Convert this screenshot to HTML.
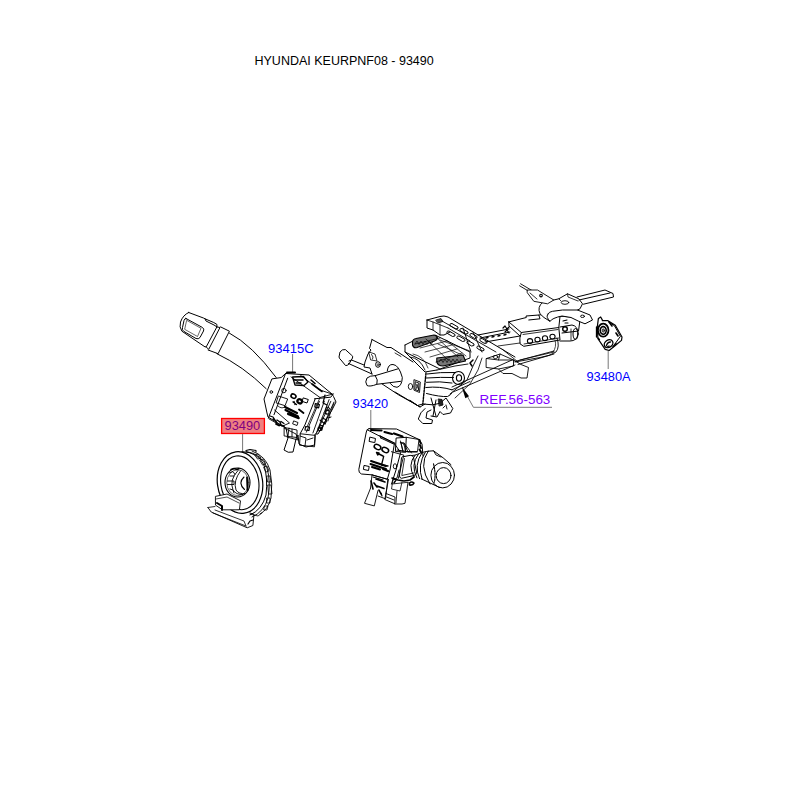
<!DOCTYPE html>
<html><head><meta charset="utf-8">
<style>
html,body{margin:0;padding:0;background:#fff;width:800px;height:800px;overflow:hidden}
svg{position:absolute;left:0;top:0}
text{font-family:"Liberation Sans",sans-serif}
</style></head><body>
<svg width="800" height="800" viewBox="0 0 800 800">
<rect width="800" height="800" fill="#fff"/>
<text x="254.5" y="64.8" font-size="12.5" fill="#000">HYUNDAI KEURPNF08 - 93490</text>

<!-- labels -->
<text x="268" y="353.4" font-size="13" fill="#0000ff">93415C</text>
<text x="352.6" y="408" font-size="12.8" fill="#0000ff">93420</text>
<text x="586.5" y="380.5" font-size="12.8" fill="#0000ff">93480A</text>
<text x="479.6" y="404.3" font-size="13.4" fill="#8000ff">REF.56-563</text>
<rect x="221.6" y="418.5" width="42.8" height="15" fill="#f08080" stroke="#ff0000" stroke-width="1.3"/>
<text x="224.6" y="430.4" font-size="12.8" fill="#800080">93490</text>

<!-- leader lines -->
<g stroke="#777" stroke-width="1" fill="none">
<line x1="292.6" y1="354" x2="292.6" y2="372"/>
<line x1="370.8" y1="410" x2="370.8" y2="429"/>
<line x1="608.2" y1="351" x2="608.2" y2="369"/>
<line x1="242.6" y1="434" x2="242.6" y2="451"/>
<polyline points="552,407.3 473.4,407.3 462.5,387.5"/>
</g>
<path d="M461.8,386.8 L465.3,398.3 L469,396.3 Z" fill="#000"/>

<g id="drawing" stroke="#000" stroke-width="1" fill="none" stroke-linejoin="round" stroke-linecap="round">

<!-- 93415C lever -->
<path d="M188.7,312.5 L203.7,318.1 L205,318.8 L213.7,322.5 L216.9,324.4 L216.9,326.9 L206.2,346.9 L205,346.9 L181.9,331.2 Q179,327 180.5,322 Q183,315 188.7,312.5 Z"/>
<path d="M205,318.8 L206,321 L214,325 L216.9,326.9"/>
<path d="M186,318.5 L202.5,327.5 Q204.5,329 203.5,331 L200,337.5 Q198.5,339.5 196,338.5 L184,331.5 Q181.5,330 182.5,327.5 L184,320.5 Q184.8,318 186,318.5 Z"/>
<path d="M187,320.5 L201,328.3 L197.5,336.5 L185,329.5 Z" stroke-width="0.6"/>
<path d="M216.9,326.9 L220,327.5 L208.7,349.4 L206.2,346.9"/>
<path d="M220.6,326.9 L229.4,331.2 L218.1,353.7 L208.1,350"/>
<path d="M229.4,333.1 Q252,345 276.2,377.5"/>
<path d="M216.9,353.7 Q243,366 266.2,388.7"/>

<!-- 93415C switch body -->
<path d="M286,373.5 L309,375 L332,394 L333.5,396.5 L336,402 L332,410 L326,420 L318,434 L315,434 L314.5,445 L306,447 L299,444 L298,435 L296,439 L293,452 Q288,453.5 284,450 L288,438 L286,428 L268,417 L267,413 L264,399 L271.9,378.9 L280.8,377.6 Z" stroke-width="1"/>
<path d="M287,372.6 L295,372.6" stroke-width="2"/>
<path d="M285.6,373.4 L268.4,418 M287.7,378.2 L274,414.7"/>
<path d="M291,376.9 L320,397.5 L333,394 M300.7,375.5 L320,390 L332,394" stroke-width="0.9"/>
<path d="M315.2,398.9 L304.9,425 L300,434"/>
<path d="M320,397.5 L307,427" stroke-width="0.8"/>
<path d="M314.5,398.8 L330.8,397.2 L333.2,394" stroke-width="1"/>
<path d="M319.4,401.3 L306.4,432.2 M324.3,401.3 L312.9,433 M329.1,399.6 L316.1,433.8" stroke-width="0.9"/>
<path d="M334,402 L321,430.5 M330.8,401.3 L317,432.2" stroke-width="0.9"/>
<path d="M315.3,403.7 L319.4,404.5 L318.6,407.8 L314.8,407 Z M305.6,426.5 L309.6,427 L309,430.5 L305,430 Z" stroke-width="1.2"/>
<path d="M322,418 L327,420 L325,424 M320,425 l3,1 l-1,3 l-3,-1z" stroke-width="1.1"/>
<path d="M327,407 l2.5,1 l-1,3 l-2.5,-1z M324,413 l3,1" stroke-width="1"/>
<path d="M300.7,433.8 L315.3,435.4 L314.5,446.8 L299.9,445.2 Z" stroke-width="0.9"/>
<path d="M292.5,377 L303.5,376.5 L308,382 L304,385.5 L295,385 Z" stroke-width="1.3"/>
<path d="M294,380 L303,380 M296,383 L301,383" stroke-width="1.5"/>
<path d="M311,380 L315,383.5 M312,384 L322,391.5" stroke-width="1.6"/>
<circle cx="271.3" cy="392" r="1.3"/>
<ellipse cx="283.9" cy="390.6" rx="2.2" ry="2.2" stroke-width="0.9"/>
<path d="M278.7,396.1 L287.7,399 L285,405.7 L276.5,403 Z" stroke-width="0.9"/>
<path d="M278,406 Q282,410 286,406" stroke-width="0.8"/>
<ellipse cx="293.5" cy="396.1" rx="2.6" ry="2" transform="rotate(30 293.5 396.1)" stroke-width="1.6"/>
<ellipse cx="299.7" cy="401.3" rx="2.4" ry="2" transform="rotate(30 299.7 401.3)" stroke-width="2.2"/>
<path d="M303.5,398 L308.3,399.5 L307,403 L302.5,401.5 Z" stroke-width="1"/>
<path d="M293,402 L296.5,404.5 M294,401.5 l1,3" stroke-width="1.3"/>
<path d="M285,407 L297,413 M285.5,410 L298,416.5 M288,414 L298.7,418.1" stroke-width="2.2"/>
<path d="M299,409.5 L303.5,413" stroke-width="1.8"/>
<path d="M294,421 l4,1.5 l-1,3 l-4,-1.5z" stroke-width="0.9"/>
<path d="M274.5,410 L289.5,423 L282,426.3 L268.9,418.8" stroke-width="0.9"/>
<path d="M270,416 l3,1 l2,3 M273,419 l3,2 l1,3 M277,420 l3,2 l1,3 M281,421.5 l3,2" stroke-width="1.3"/>
<path d="M276,424 l3,1.5 M280,425 l4,1" stroke-width="1.8"/>
<path d="M284.5,427.5 L297,430 L297,437.5 L284.5,436 Z M289,428 L288,436 M292,429 L292,437" stroke-width="0.9"/>
<path d="M284,428 L296,434 L298,440 L287,437" stroke-width="0.9"/>
<path d="M320,420 L325,424 M318,428 l3,-1 l1,3 l-3,1z" stroke-width="1.1"/>
<path d="M326,410 l3,0 l0,4 l-3,0z M328,418 l3,-1" stroke-width="1"/>
<path d="M300,436 L306,438 L305,446 M307,440 L313,438" stroke-width="0.9"/>
<path d="M334,403 L330,414 L328,421" stroke-width="0.8"/>
<path d="M325,395 L323,403 L327,405" stroke-width="1.2"/>
<!-- 93490 clock spring -->
<ellipse cx="240" cy="482.5" rx="22.6" ry="31" transform="rotate(-8 240 482.5)" stroke-width="1.2"/>
<ellipse cx="239.8" cy="482.8" rx="19" ry="27" transform="rotate(-8 239.8 482.8)" stroke-width="1.1"/>
<path d="M242,451.6 Q258,452 264,465 Q268,478 266,495 Q262,510 250,515" stroke-width="1"/>
<path d="M246,451.4 Q262,454 267,468 Q271,482 268,498 Q264,512 252,517" stroke-width="0.9"/>
<path d="M252,451 Q266,456 270,470 Q273,484 271,498 Q268,510 260,514" stroke-width="0.9"/>
<path d="M255,455 l3,-1 l3,4 l-3,1z M260,460 l3,-1 l3,5 l-3,1z M264,467 l3,-1 l2,5 l-3,1z M267,476 l3,0 l1,6 l-3,0z M268,485 l3,0 l1,9 l-3,0z M267,498 l3,0 l0,5 l-3,0z M265,506 l3,0 l-1,4 l-3,0z" stroke-width="0.8"/>
<path d="M246,450.5 L250,449.5 L256,450.5 L256,452" stroke-width="1.1"/>
<path d="M250,514 L258,516 L262,513" stroke-width="0.8"/>
<ellipse cx="237.5" cy="482.5" rx="12.5" ry="14.5" stroke-width="1.1"/>
<ellipse cx="237.8" cy="482.7" rx="11" ry="13" stroke-width="0.6"/>
<path d="M238,470.5 Q229,480 233,490 Q236,495 243,494.5 M240.5,471 Q233,481 236,490 Q239,494.5 245,493.5" stroke-width="0.9"/>
<path d="M244,477 Q237.5,483 244.5,489.5" stroke-width="1.1"/>
<path d="M247,477.5 L247.5,490" stroke-width="1.8"/>
<path d="M227.5,481 L234,481 L234,484.5 L227.5,484.5 M229,473 l4,-1.5 l2,3 M230,476 l4,0 M230,489 l3,1 l1,3" stroke-width="0.9"/>
<path d="M231,469.5 l3,-1 l3,1 l2,-1" stroke-width="1.4"/>
<path d="M215.8,496.3 L227,494 L240.5,500.8 L239.4,509.8 L222.5,509.8 L215.8,505.3 Z" stroke-width="0.9" fill="#fff"/>
<path d="M216,499 L227,497 L239,503" stroke-width="0.7"/>
<path d="M217,503 L222,506 L222,510" stroke-width="2"/>
<path d="M207.9,507.5 L211.2,512 L247.2,527.8 L252.9,525.5 L254,514.3 L250,513" stroke-width="0.9"/>
<path d="M207.9,507.5 L215,506.5 M213,513 L246,526 M215,510 L244,521 L246,526" stroke-width="0.8"/>
<path d="M248,524 L250,521 L253,520" stroke-width="1.2"/>

<!-- steering column -->
<g id="column">
<!-- small pedal lever -->
<path d="M345,349.5 Q342,349 340,352 L339,357 Q339.5,359 341,360 L345.5,365.5 Q347,366 349,364 L352.5,358 Q353.5,356 351.5,355 Z"/>
<path d="M349,361 L351.5,360 L364,365 M348.5,363.5 L372,374"/>
<!-- plate -->
<path d="M372,339.5 L387,347.5 L391,347.5 L413,362 M372,339.5 L369.5,348.5 L371,350 L368,354 L365,362 L364,367 L370,368 L372,374"/>
<path d="M369,352 L375,354 L377,361 L371,360 Z M371.5,354.5 L373,357 L372.5,359" stroke-width="0.8"/>
<ellipse cx="378" cy="364.5" rx="2.4" ry="2.8"/>
<circle cx="378.2" cy="364.7" r="1" stroke-width="0.7"/>
<path d="M395,353 L401,356.5" stroke-width="0.8"/>
<!-- shaft tube -->
<path d="M375.3,375.6 Q370,375.5 367,378 Q364.5,382 367,385.5 Q370,387 376.8,384.3 Q378.5,380 375.3,375.6 Z"/>
<path d="M375.3,375.6 L397.8,368.9 M376.8,384.3 L400.8,381.3"/>
<path d="M387.3,370.8 Q388,364 393,364.5 Q399,365 402.3,377.5 Q402,386 397,387.3 Q393,387.5 390.3,383.5"/>
<path d="M382,383.9 L398.5,394.8 L415,404 L420,407 L425,404 M395,392 L420,407"/>
<!-- housing -->
<path d="M405,345 L405,352 L425,372 L437,370" />
<path d="M405,345 L413,341 L437,336 L470,352 L470,358 L440,369 L405,352"/>
<path d="M412.5,341.5 Q413,339 416,338.5 L434,335 Q437,335 437.5,338 Q437,340 434.5,341 L417,347.5 Q413.5,348.5 412.5,345 Z" fill="#777" stroke-width="1.1"/>
<path d="M415,344 l2,-3 l2,3.5 l2,-3.5 l2,3.5 l2,-3.5 l2,3.5 l2,-3.5 l2,3.5 l2,-3" stroke-width="0.8" stroke="#111"/>
<path d="M436.8,358 L463,355 L465.5,361 L443,366 Q438,366 436.8,362 Z" fill="#777" stroke-width="1.1"/>
<path d="M439,362 l2,-3 l2,3.5 l2,-3.5 l2,3.5 l2,-3.5 l2,3.5 l2,-3.5 l2,3.5 l2,-3.5 l2,3.5 l2,-3" stroke-width="0.8" stroke="#111"/>
<path d="M473,360 l-3,3 l2,3" stroke-width="1.5"/>
<path d="M415,344 L440,338 M420,348 L447,341 M425,352 L452,345 M430,357 L457,349 M436,362 L462,353" stroke-width="0.7"/>
<path d="M426,339 L448,360 M436,337 L458,357 M446,340 L466,356" stroke-width="0.7"/>
<path d="M410,357 Q420,358 425,370" stroke-width="0.9"/>
<path d="M413,354 Q424,356 428,368" stroke-width="0.7"/>
<path d="M427,374 Q440,372 455,372.5 M426.5,378 Q441,377 453.5,377.5 M426.5,382.3 Q440,381 452,383 M425.8,387.5 Q440,386 452,389.8 M426.5,393.5 Q440,397 447.5,396.5 Q451,395 452,392.8" stroke-width="1"/>
<path d="M426,373 L422.8,404" stroke-width="1.4" stroke-dasharray="2.2 1.2"/>
<path d="M437,370 L455,366 L468,364" stroke-width="0.9"/>
<ellipse cx="458.5" cy="378" rx="6" ry="6.5" stroke-width="1.1"/>
<ellipse cx="459" cy="378" rx="2.6" ry="3.2" stroke-width="1.1"/>
<path d="M414.3,379.8 L420.3,382 L419.5,392.5 L414.3,390.3 Z M415.6,381.8 L419,383.2 L418.4,390.8 L415.3,389.6 Z" stroke-width="0.9"/>
<path d="M416,384 L418.5,389 M418,384 L416,389" stroke-width="0.8"/>
<ellipse cx="410.5" cy="386.5" rx="2.2" ry="3" stroke-width="0.9"/>
<path d="M410,400.3 L417.5,405.5 L422.8,404" stroke-width="1"/>
<path d="M422.8,404 L432.5,404.8 L440,403.3 L446,398 L452.8,408.5 L450.5,413 L443,414.5 L440,411.5 L437,417 L431,416"/>
<path d="M425,408.5 Q420,412 418.3,419 L422.8,423.5 L431.8,423.5 L432.5,420 L426,418 L427,412 L431,410"/>
<path d="M431,398 L436,416 M436,400 L433,416" stroke-width="1"/>
<path d="M438.5,399 L442,399.5 L443,405 L439.5,406 Z" fill="#222" stroke-width="0.8"/>
<path d="M443,408 l2,-2 M446,405 l1,4" stroke-width="0.9"/>
<path d="M452,389.8 L470,381.5 M450,394 L467,380 L473,366 L478,356" stroke-width="0.9"/>
<path d="M455,398 L470,384 L478,370 L482,358" stroke-width="0.8"/>
<path d="M452,387 L512,360 M453,392 L515,365" stroke-width="0.9"/>
<!-- upper bracket + frame -->
<path d="M427,320 L440,316.5 L444,316 L448,317 L515,357 M427,320 L427,328 L433,330 L440,335 L444,335 L450,332"/>
<path d="M427,320 L433,322 L448,328 M433,322 L433,330 M440,324 L440,335" stroke-width="0.8"/>
<path d="M436,320 l5,-1.5 l2,3 l-5,1.5z" fill="#555" stroke-width="0.7"/>
<path d="M442,321 L496,352 M448,328 L470,341" stroke-width="0.9"/>
<path d="M447,333 q-1,-2 2,-2 l6,3.5 q1,2 -2,2z M457,338 q-1,-2 2,-2 l6,3.5 q1,2 -2,2z M467,343 q-1,-2 2,-2 l5,3 q1,2 -2,2z M477,348 q-1,-2 2,-2 l5,3 q1,2 -2,2z" stroke-width="1"/>
<path d="M450,325.5 q-1,-2 2,-2 l6,3.5 q1,2 -2,2z M460,330.5 q-1,-2 2,-2 l6,3.5 q1,2 -2,2z M470,335.5 q-1,-2 2,-2 l5,3 q1,2 -2,2z M480,340.5 q-1,-2 2,-2 l5,3 q1,2 -2,2z" stroke-width="1"/>
<path d="M463,328 L471,352 M473,332 L482,352" stroke-width="0.9"/>
<path d="M440,340 L470,351 M438,344 L462,355" stroke-width="0.7"/>
<!-- long rails -->
<path d="M478,335 L509,329 M485,342 L520,336 M480,338 L510,332 M577,297 L605,290 L613,293.5 L613.5,297 L583.5,304.2 M579,300 L610,293" />
<path d="M486,338 l2,-0.5 M492,337 l2,-0.5 M498,336 l2,-0.5 M504,335 l2,-0.5" stroke-width="1.3"/>
<!-- bracket block -->
<path d="M486.5,358.5 L500,354 L513.5,360 L513.5,366 L498.5,369 L486.5,367.5 Z M500,354 L498.5,360 L486.5,358.5 M498.5,360 L513.5,360" stroke-width="0.9"/>
<ellipse cx="495.5" cy="357" rx="2.5" ry="1.5" stroke-width="0.9"/>
<path d="M513.5,360 L521,364.5 L528.5,367.5 L527,378 L521,378 L512,373.5 L503,373.5 L498.5,369" stroke-width="0.9"/>
<path d="M515,361.5 L554,351 M518,364.5 L554,354" stroke-width="0.9"/>
<!-- lock housing -->
<path d="M508.8,321.9 L526.3,317.5 L526,316 L538.8,315 L540,318.8 L528.8,320 M538.8,315 L546,314 L560,316.5"/>
<path d="M508.8,321.9 L521.3,332.5 L558.8,327.5 L560,316.5 M508.8,321.9 L509,326 L520,336"/>
<path d="M521.3,332.5 Q519,338 520,343.8 L523.8,346.3 L560,340 L558.8,327.5"/>
<path d="M523,334.5 L558,329.5 M524,344 L559,338" stroke-width="0.8"/>
<ellipse cx="530" cy="341" rx="2.6" ry="2.4" stroke-width="1.1"/>
<ellipse cx="537.5" cy="339.6" rx="2.6" ry="2.4" stroke-width="1.1"/>
<ellipse cx="545" cy="338.2" rx="2.6" ry="2.4" stroke-width="1.1"/>
<ellipse cx="552.5" cy="336.6" rx="2.6" ry="2.4" stroke-width="1.1"/>
<path d="M498,346 L520,343 M520,360 L554,352 M502,349 L518,362" stroke-width="0.8"/>
<path d="M560,316.5 L562,316.3 L578,317.5 L580,320 L578.5,331 L562,333" />
<circle cx="565" cy="329" r="2.3" stroke-width="1.4"/>
<path d="M560,327 L572,325 Q578,326 578,334 Q577,341 570,341 L560,341"/>
<ellipse cx="575.5" cy="334" rx="2.5" ry="5.5"/>
<path d="M571,329 L571,340" stroke-width="0.8"/>
<path d="M563,321 l4,-1 M565,323 l3,0" stroke-width="1.1"/>
<path d="M557,338 Q560,347 556,352 Q550,356 540,357.5 L515,362" stroke-width="0.9"/>
<path d="M555,340 Q557,347 553,352" stroke-width="0.7"/>
<path d="M503,328 l2,-2 l2,3 l2,-2 M505,332 l2,-2 l2,3" stroke-width="1.2"/>
<!-- saddle bracket -->
<path d="M542.5,302.5 Q537,307 540,313.8 Q543,317.5 550,321.3 Q546,317 547.5,315 Q549,311.5 552.5,311.3 L562.5,310 L575,310 L577.5,310 L590,315 L592.5,320 L585,323.8 L578.8,321.3 L571,317.5 L562,316 Q552,318 550,321.3" fill="#fff"/>
<path d="M542.5,302.5 L553.8,300 L558.8,298.8 L567.5,293.8 L578.8,298.8 L582.5,303.8 L580,308.8 L577.5,310"/>
<ellipse cx="565" cy="302.5" rx="3.8" ry="1.8" stroke-width="0.9"/>
<ellipse cx="582.5" cy="316.3" rx="2" ry="1.2" stroke-width="0.9"/>
<path d="M558.8,298.8 L561,301 M567.5,293.8 L568,297 L578,301" stroke-width="0.8"/>
<!-- thin rod -->
<path d="M520.6,283.8 L537.5,293.8 M519.6,285.8 L536.5,295.8" stroke-width="0.9"/>
<path d="M527.5,290 L537.5,290 L553.8,300 L547.5,303.8 L533.8,301.3 L527.5,293 Z" stroke-width="0.9" fill="#fff"/>
<circle cx="541" cy="295.6" r="1.3" stroke-width="1.1"/>
<path d="M530,293 L537,299" stroke-width="0.8"/>
</g>
<!-- 93420 switch -->
<g id="sw93420">
<path d="M369,428.6 L396.5,429 L419,439.5 L422,444 L423,456"/>
<path d="M369,428.6 Q366.5,429 366.3,432 L358.8,469.5 Q358.5,473 361.5,474 L371.5,474.8 L387.3,479.3 L390,470 L394.4,443.7 L367.3,429.8" stroke-width="1"/>
<path d="M371,430 L381.5,430.5 M384.5,432 L392,434 M394,433.5 L402.5,436.5" stroke-width="2.2"/>
<path d="M380,435.8 L395,443.2 M380.8,438 L393.5,444 M380,435.8 L380.8,438" stroke-width="1"/>
<path d="M396.5,438 L406.3,437.3 L405.5,452.3 L395.8,451.5 Z" stroke-width="1"/>
<path d="M400.3,442.5 L404,443 L411.5,453 M401,443 L403,451 M404,443 L408,452" stroke-width="0.9"/>
<path d="M406.3,437.3 L419,439.5 L417.5,451.5 L406,451.5" stroke-width="0.9"/>
<path d="M419.5,440 L420.5,443 M420,445 L421,448 M419.5,449.5 L421,452" stroke-width="2"/>
<path d="M397,450 L409,452 L417,452" stroke-width="1.2"/>
<path d="M370.2,437.2 L375.5,438.5 L374.8,442.6 L369.5,441.5 Z" stroke-width="1"/>
<ellipse cx="377.5" cy="447" rx="3.5" ry="2.3" transform="rotate(25 377.5 447)" stroke-width="1.5"/>
<ellipse cx="385.3" cy="450" rx="3.5" ry="2.3" transform="rotate(25 385.3 450)" stroke-width="1.5"/>
<path d="M377,453 L383,456 M376.5,452.5 l2.5,0.5 l-1.3,2z" stroke-width="1.4"/>
<path d="M383.7,456.3 L381.5,465 L388,466" stroke-width="1.3"/>
<path d="M371,461 L386,466 M370.5,464 L386,469 M372,467 L380,469.5" stroke-width="2"/>
<path d="M383,469 L388,471" stroke-width="2.2"/>
<path d="M364.4,465.5 L369.2,466.5 L368.5,470.5 L363.8,469.5 Z" stroke-width="1"/>
<!-- right face of body -->
<path d="M394.4,443.5 L400.6,452.6 L396,470 L391.5,484" />
<ellipse cx="395" cy="466.3" rx="1.7" ry="2.6" stroke-width="0.9"/>
<!-- connector + shaft -->
<path d="M372,474.8 L387.8,479.3 L385.5,498.8 L378,496 M372,474.8 L370.5,488.3" stroke-width="0.9"/>
<path d="M370.5,488.3 L364.5,503.3 L374.3,505.9 L378,490.5" stroke-width="0.9"/>
<path d="M371,481 L373,489 M374,483 L377,487 M376,479 L385,482 M377,486 L384,488.5 M379,490 l2,4" stroke-width="1.6"/>
<path d="M381,493 l1,3 M373,477 l10,3" stroke-width="1.2"/>
<path d="M388.5,479.3 L384.8,499.5 L395.3,504 L402,504 L405,503.3 L408,482.3" stroke-width="0.9"/>
<path d="M386,493.5 L395,497 L394.8,504 M386.5,497 L394,500" stroke-width="0.9"/>
<path d="M393,479.5 L391.5,489 L400,491 L402,482 M392,484 L408,482.3 M397,491 L396,503" stroke-width="0.8"/>
<path d="M393.5,478 L396,480 L394,483" stroke-width="1.4"/>
<path d="M409.5,483 q2,-2 4.5,0 q-1,2.5 -4.5,2z" stroke-width="1.6"/>
<path d="M399,470 L397,478 L393,480" stroke-width="0.9"/>
<!-- knob -->
<path d="M391.4,451.7 L403.8,455.1 L398.3,478.5" stroke-width="0.9"/>
<path d="M403.5,456.5 Q402,456 401.5,458 L399.5,475 Q399,478 401.5,478.3 L414,475.5 Q417,474.8 416.5,472 L413.5,457.5 Q413,455 410.5,455.3 Z" stroke-width="1"/>
<path d="M404.5,458.5 L401.8,475.5 L413.5,473" stroke-width="0.8"/>
<path d="M392,478 L398,480 L404,481 L410,480 L414,477" stroke-width="1.6"/>
<path d="M400.5,441 L403,452 M401.5,443 q2,-1 3,3 l1,6" stroke-width="0.9"/>
<path d="M415.1,455.1 Q407,465 414.2,477 M418.6,453.8 Q410,465 416.9,477.9 M422.1,452.5 Q413.5,465 419.5,478.7 M425.6,451.6 Q417,465 422.1,479.2" stroke-width="1"/>
<path d="M412,455.5 L415.1,455.1 L418.6,453.8 L422.1,452.5 L425.6,451.6 L428.2,451.2" stroke-width="0.9"/>
<path d="M428.2,451.2 Q418,465 430,484" stroke-width="1"/>
<path d="M428.2,451.2 L433.5,450.8 L443.1,457.8 L451,464.7" stroke-width="1"/>
<path d="M433.5,450.8 L436,455 L441,457" stroke-width="0.9"/>
<ellipse cx="442.7" cy="475.2" rx="11.8" ry="12.7" stroke-width="1"/>
<ellipse cx="443.6" cy="475.6" rx="7.4" ry="8" stroke-width="1"/>
<path d="M433.5,463.9 Q436,473 434.4,482.2" stroke-width="1.1" stroke-dasharray="2 1"/>
<path d="M421.2,478.8 L439.6,487.5" stroke-width="1"/>
</g>
<!-- 93480A plate -->
<g id="p93480">
<path d="M602.4,320.7 L608,320.7 L615.3,325.2 L622,337 L621.5,340.4 L614.7,346 L609.1,350.5 L605.2,349.4 L597.9,338.7 L597.3,326.9 L598.4,318.4 L600.7,317 L602.4,320.1 Z" stroke-width="1.2"/>
<path d="M608.6,321.8 L614.5,325.8 L620.4,336.4 L614.7,344.3" stroke-width="1"/>
<path d="M609,322 L612,326 M616,333 l2,3" stroke-width="1.6"/>
<ellipse cx="603.2" cy="330.2" rx="5.3" ry="6.5" stroke-width="1.8"/>
<ellipse cx="603.2" cy="330.4" rx="3" ry="3.8" stroke-width="1.6" stroke-dasharray="1.2 0.8"/>
<ellipse cx="603.3" cy="330.5" rx="1.3" ry="1.7" fill="#777" stroke-width="0.6"/>
<ellipse cx="608.6" cy="343.7" rx="4.6" ry="3.6" transform="rotate(-35 608.6 343.7)" stroke-width="1.4"/>
<path d="M606.5,345.5 q1,-3.5 4,-3.5 M607,347 l2,-1" stroke-width="1.3"/>
<path d="M598,338 l1.5,1.5 M596.5,327 l0,10" stroke-width="1.3"/>
<path d="M613,346.5 l3,-3" stroke-width="1.5"/>
</g>
</g>
</svg>
</body></html>
